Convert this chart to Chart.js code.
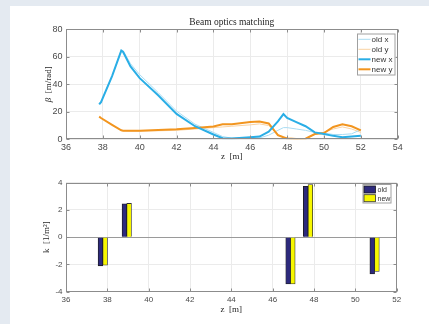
<!DOCTYPE html>
<html>
<head>
<meta charset="utf-8">
<script src="https://cdn.jsdelivr.net/npm/chart.js@4/dist/chart.umd.min.js"></script>
<style>
  html, body { margin: 0; padding: 0; width: 429px; height: 324px; overflow: hidden; background: #e4eaf1; }
  #sheet { position: absolute; left: 10px; top: 6px; width: 419px; height: 318px; background: #ffffff; }
  canvas { position: absolute; left: 0; }
  #betaCanvas { top: 0; }
  #kCanvas { top: 162px; }
</style>
</head>
<body>
<div id="sheet"></div>
<canvas id="betaCanvas" width="429" height="162"></canvas>
<canvas id="kCanvas" width="429" height="162"></canvas>
<script>
// Longitudinal positions of the optics samples [m]
const zBeta = [37.8, 37.9, 38.5, 39.0, 39.1, 39.5, 40, 41, 42, 43, 44, 44.5, 45, 46, 46.5, 47, 47.5, 47.8, 48.0, 48.5, 49, 49.5, 50, 50.5, 51, 51.5, 52];

// Beta functions before matching [m/rad]
const betaOldX = [25.5, 27, 46, 65, 64.5, 55, 47, 34, 20.5, 11, 5, 2, 0.8, 0.8, 1, 3, 6.5, 8.5, 8.5, 7.5, 6.5, 5, 4.5, 3.5, 3.5, 4, 7];
const betaOldY = [16.5, 15.5, 10.5, 6.5, 6.2, 6, 6, 6.2, 6.5, 7.5, 8.5, 9, 9.5, 10.5, 11.2, 10, 3.5, 1.5, 0.8, 0.5, 0.5, 3.5, 5.2, 7.5, 9, 7.5, 5];

// Beta functions after matching [m/rad]
const betaNewX = [25.5, 27, 46, 64.5, 63.5, 53, 44.5, 32, 18.5, 9.5, 3.5, 0.8, 0.6, 1.5, 2, 5.5, 13, 18.3, 15.5, 12.5, 9.5, 5, 3.8, 2.5, 1.5, 2, 2.5];
const betaNewY = [16.5, 15.5, 10.5, 6.5, 6.3, 6.2, 6.3, 6.8, 7.3, 8.3, 9.3, 11, 11, 12.5, 13, 11.5, 3, 1.5, 0.6, 0.3, 0.4, 3.8, 4.5, 9, 11, 9.5, 6.5];

// Quadrupole centres [m] and their strengths [1/m^2]
const quadZ = [37.78, 38.94, 46.86, 47.71, 50.93];
const kOld = [-2.1, 2.45, -3.43, 3.74, -2.69];
const kNew = [-2.05, 2.48, -3.43, 3.87, -2.52];

// Axis tick values
const betaZTicks = [36, 38, 40, 42, 44, 46, 48, 50, 52, 54];
const betaTicks = [0, 20, 40, 60, 80];
const kZTicks = [36, 38, 40, 42, 44, 46, 48, 50, 52];
const kTicks = [-4, -2, 0, 2, 4];

const pts = (xs, ys) => xs.map((x, i) => ({ x: x, y: ys[i] }));

const SANS = '"Liberation Sans", Arial, Helvetica, sans-serif';
const SERIF = '"Liberation Serif", "Times New Roman", serif';
const GRID = '#ebebeb';
const FRAME = '#8c8c8c';
const TICKTXT = '#4a4a4a';

// Draws the axes box, inward tick marks, titles and the in-axes legend
function decorations(opt) {
  return {
    id: 'decorations',
    afterDraw(chart) {
      const ctx = chart.ctx;
      const a = chart.chartArea;
      const xs = chart.scales.x, ys = chart.scales.y;
      ctx.save();
      // box
      ctx.strokeStyle = FRAME;
      ctx.lineWidth = 1;
      const L = Math.round(a.left) + 0.5, R = Math.round(a.right) - 0.5;
      const T = Math.round(a.top) + 0.5, B = Math.round(a.bottom) - 0.5;
      ctx.strokeRect(L, T, R - L, B - T);
      // inward ticks on all four sides
      const tl = 3;
      ctx.beginPath();
      opt.xTicks.forEach(v => {
        const p = Math.round(xs.getPixelForValue(v)) + 0.5;
        ctx.moveTo(p, B); ctx.lineTo(p, B - tl);
        ctx.moveTo(p, T); ctx.lineTo(p, T + tl);
      });
      opt.yTicks.forEach(v => {
        const p = Math.round(ys.getPixelForValue(v)) + 0.5;
        ctx.moveTo(L, p); ctx.lineTo(L + tl, p);
        ctx.moveTo(R, p); ctx.lineTo(R - tl, p);
      });
      ctx.stroke();

      ctx.fillStyle = '#262626';
      ctx.textBaseline = 'middle';
      const cx = (a.left + a.right) / 2, cy = (a.top + a.bottom) / 2;
      // title
      if (opt.title) {
        ctx.font = '9.5px ' + SERIF;
        ctx.textAlign = 'center';
        ctx.fillText(opt.title, cx, opt.titleY);
      }
      // x axis title
      ctx.font = '9px ' + SERIF;
      ctx.textAlign = 'center';
      ctx.fillText(opt.xTitle, cx, opt.xTitleY);
      // y axis title (rotated, pieces may be italic)
      ctx.translate(opt.yTitleX, cy);
      ctx.rotate(-Math.PI / 2);
      ctx.textAlign = 'left';
      let total = 0;
      opt.yTitle.forEach(p => { ctx.font = p.f + ' 9px ' + SERIF; total += ctx.measureText(p.t).width; });
      let x0 = -total / 2;
      opt.yTitle.forEach(p => { ctx.font = p.f + ' 9px ' + SERIF; ctx.fillText(p.t, x0, 0); x0 += ctx.measureText(p.t).width; });
      ctx.setTransform(1, 0, 0, 1, 0, 0);

      // legend
      const lg = opt.legend;
      ctx.fillStyle = '#ffffff';
      ctx.fillRect(lg.x, lg.y, lg.w, lg.h);
      ctx.strokeStyle = '#a0a0a0';
      ctx.lineWidth = 1;
      ctx.strokeRect(lg.x + 0.5, lg.y + 0.5, lg.w - 1, lg.h - 1);
      ctx.font = lg.font + 'px ' + SANS;
      ctx.textAlign = 'left';
      chart.data.datasets.forEach((ds, i) => {
        const yy = lg.y + lg.first + i * lg.step;
        if (lg.kind === 'line') {
          ctx.strokeStyle = ds.borderColor;
          ctx.lineWidth = ds.borderWidth;
          ctx.beginPath();
          ctx.moveTo(lg.x + 1.5, yy); ctx.lineTo(lg.x + 13.5, yy);
          ctx.stroke();
        } else {
          ctx.fillStyle = ds.backgroundColor;
          ctx.fillRect(lg.x + 1.5, yy - 3.5, 11.5, 7);
          ctx.strokeStyle = ds.borderColor;
          ctx.lineWidth = 0.8;
          ctx.strokeRect(lg.x + 1.5, yy - 3.5, 11.5, 7);
        }
        ctx.fillStyle = '#333333';
        ctx.fillText(ds.label, lg.x + lg.textX, yy + 0.5);
      });
      ctx.restore();
    }
  };
}

function fixedWidth(w) { return s => { s.width = w; }; }
function fixedHeight(h) { return s => { s.height = h; }; }

// ---------- beta functions ----------
new Chart(document.getElementById('betaCanvas'), {
  type: 'line',
  data: {
    datasets: [
      { label: 'old x', data: pts(zBeta, betaOldX), borderColor: '#a9dcf3', borderWidth: 1, order: 1 },
      { label: 'old y', data: pts(zBeta, betaOldY), borderColor: '#f9d2a2', borderWidth: 1, order: 1 },
      { label: 'new x', data: pts(zBeta, betaNewX), borderColor: '#2aaee6', borderWidth: 2, order: 0 },
      { label: 'new y', data: pts(zBeta, betaNewY), borderColor: '#f2951f', borderWidth: 2, order: 0 }
    ]
  },
  options: {
    responsive: false,
    animation: false,
    devicePixelRatio: 1,
    layout: { padding: { left: 0, top: 29.3, right: 31.3, bottom: 0 } },
    elements: { point: { radius: 0 }, line: { tension: 0, fill: false } },
    plugins: { legend: { display: false }, tooltip: { enabled: false } },
    scales: {
      x: {
        type: 'linear', min: 36, max: 54,
        afterFit: fixedHeight(22.7),
        afterBuildTicks: s => { s.ticks = betaZTicks.map(v => ({ value: v })); },
        border: { display: false },
        grid: { color: GRID, drawTicks: false },
        ticks: { autoSkip: false, maxRotation: 0, padding: 2.5, color: TICKTXT, font: { family: SANS, size: 9 } }
      },
      y: {
        type: 'linear', min: 0, max: 80,
        afterFit: fixedWidth(66),
        afterBuildTicks: s => { s.ticks = betaTicks.map(v => ({ value: v })); },
        border: { display: false },
        grid: { color: GRID, drawTicks: false },
        ticks: { padding: 3.5, color: TICKTXT, font: { family: SANS, size: 9 } }
      }
    }
  },
  plugins: [decorations({
    xTicks: betaZTicks, yTicks: betaTicks,
    title: 'Beam optics matching', titleY: 22.3,
    xTitle: 'z  [m]', xTitleY: 156.7,
    yTitle: [{ t: 'β', f: 'italic' }, { t: '  [m/rad]', f: 'normal' }], yTitleX: 49,
    legend: { kind: 'line', x: 357, y: 33.5, w: 38.5, h: 42, first: 5.8, step: 10, textX: 14.5, font: 8 }
  })]
});

// ---------- quadrupole strengths ----------
new Chart(document.getElementById('kCanvas'), {
  type: 'bar',
  data: {
    datasets: [
      { label: 'old', data: pts(quadZ, kOld), backgroundColor: '#2d2a7d', borderColor: '#1a1a1a', borderWidth: 0.8 },
      { label: 'new', data: pts(quadZ, kNew), backgroundColor: '#f7f700', borderColor: '#333333', borderWidth: 0.8 }
    ]
  },
  options: {
    responsive: false,
    animation: false,
    devicePixelRatio: 1,
    barThickness: 4.7,
    layout: { padding: { left: 0, top: 20.7, right: 32.3, bottom: 0 } },
    plugins: { legend: { display: false }, tooltip: { enabled: false } },
    scales: {
      x: {
        type: 'linear', min: 36, max: 52, offset: false,
        afterFit: fixedHeight(32.3),
        afterBuildTicks: s => { s.ticks = kZTicks.map(v => ({ value: v })); },
        border: { display: false },
        grid: { color: GRID, drawTicks: false, offset: false },
        ticks: { autoSkip: false, maxRotation: 0, padding: 3.5, color: TICKTXT, font: { family: SANS, size: 8 } }
      },
      y: {
        type: 'linear', min: -4, max: 4,
        afterFit: fixedWidth(66),
        afterBuildTicks: s => { s.ticks = kTicks.map(v => ({ value: v })); },
        border: { display: false },
        grid: { color: c => (c.tick && c.tick.value === 0 ? '#9a9a9a' : GRID), drawTicks: false },
        ticks: { padding: 3.5, color: TICKTXT, font: { family: SANS, size: 8 } }
      }
    }
  },
  plugins: [decorations({
    xTicks: kZTicks, yTicks: kTicks,
    xTitle: 'z  [m]', xTitleY: 147.3,
    yTitle: [{ t: 'k  [1/m²]', f: 'normal' }], yTitleX: 47,
    legend: { kind: 'bar', x: 362.5, y: 22, w: 29, h: 19.5, first: 5.5, step: 8.7, textX: 15, font: 7 }
  })]
});
</script>
</body>
</html>
